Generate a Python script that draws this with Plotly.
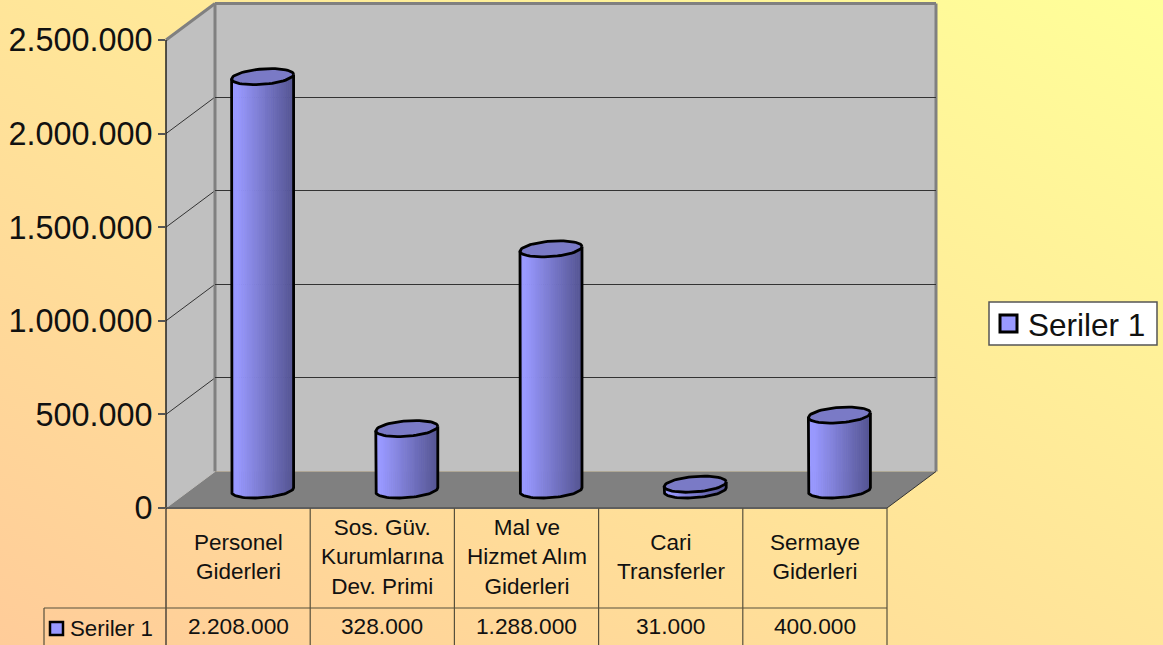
import math
from urllib.parse import quote
import plotly.graph_objects as go

# ---- data ----
categories = ["Personel<br>Giderleri", "Sos. Güv.<br>Kurumlarına<br>Dev. Primi",
              "Mal ve<br>Hizmet Alım<br>Giderleri", "Cari<br>Transferler", "Sermaye<br>Giderleri"]
values = [2208000, 328000, 1288000, 31000, 400000]
value_labels = ["2.208.000", "328.000", "1.288.000", "31.000", "400.000"]
y_ticks = [0, 500000, 1000000, 1500000, 2000000, 2500000]
y_tick_labels = ["0", "500.000", "1.000.000", "1.500.000", "2.000.000", "2.500.000"]
series_name = "Seriler 1"

# ---- layout geometry (pixels) ----
W, H = 1163, 645
FL, FR, FT, FB = 166, 887, 40, 508      # front plane of the 3-D box
DX, DY = 49, 36.5                       # depth offset to back wall
BX, BY = 24.5, 18                       # bar plane offset
ROW_TOP, LEFT_COL = 608, 44
FONT = "Liberation Sans"
TXT = "#111111"
GRID = "#333333"
EDGE = "#808080"
LINE = "#57503c"

def fx(p): return p / W
def fy(p): return 1 - p / H

VMAX = y_ticks[-1]
PX_PER_V = (FB - FT) / VMAX
PX_PER_CAT = (FR - FL) / len(values)
xr = [0.5, len(values) + 0.5]
n = len(values)
cat_x = list(range(1, n + 1))
tick_py = [FB - v * PX_PER_V for v in y_ticks]
col_px = [FL + i * PX_PER_CAT for i in range(n + 1)]

# background gradient
svg = ("<svg xmlns='http://www.w3.org/2000/svg' width='1163' height='645' preserveAspectRatio='none'>"
       "<defs><linearGradient id='g' x1='0' y1='1' x2='1' y2='0'>"
       "<stop offset='0' stop-color='#FFCC99'/><stop offset='1' stop-color='#FFFF99'/>"
       "</linearGradient></defs><rect width='1163' height='645' fill='url(#g)'/></svg>")
bg = "data:image/svg+xml," + quote(svg)

shapes = []
def poly(pts, fill, line=None, lw=0):
    d = "M" + " L".join(f"{fx(x):.5f},{fy(y):.5f}" for x, y in pts) + " Z"
    shapes.append(dict(type="path", path=d, xref="paper", yref="paper", fillcolor=fill, layer="below",
                       line=dict(color=line or fill, width=lw)))
def seg(x0, y0, x1, y1, color, lw):
    shapes.append(dict(type="line", xref="paper", yref="paper", layer="below",
                       x0=fx(x0), y0=fy(y0), x1=fx(x1), y1=fy(y1), line=dict(color=color, width=lw)))

# box walls and floor
poly([(FL + DX, FT - DY), (FR + DX, FT - DY), (FR + DX, FB - DY), (FL + DX, FB - DY)], "#C0C0C0")
poly([(FL, FT), (FL + DX, FT - DY), (FL + DX, FB - DY), (FL, FB)], "#C0C0C0")
poly([(FL, FB), (FL + DX, FB - DY), (FR + DX, FB - DY), (FR, FB)], "#808080")
# side wall gridlines
for p in tick_py[1:-1]:
    seg(FL, p, FL + DX, p - DY, GRID, 1)
# box edges
seg(FL, FT, FL + DX, FT - DY, EDGE, 3)
seg(FL + DX, FT - DY, FR + DX, FT - DY, EDGE, 3)
seg(FL + DX, FT - DY, FL + DX, FB - DY, EDGE, 3)
seg(FR + DX, FT - DY, FR + DX, FB - DY, EDGE, 3)
seg(FL, FB, FL + DX, FB - DY, "#C0C0C0", 1)
seg(FR, FB, FR + DX, FB - DY, "#333333", 1)
seg(FL, FT, FL, FB, "#222222", 1.5)
seg(FL, FB, FR, FB, "#5e5e5e", 2)
# data table rules
seg(FL, FB, FL, H, "#222222", 1.2)
for c in col_px[1:]:
    seg(c, FB, c, H, LINE, 1.2)
seg(LEFT_COL, ROW_TOP, FR, ROW_TOP, LINE, 1.2)
seg(LEFT_COL, ROW_TOP, LEFT_COL, H, LINE, 1.2)
# table key
poly([(50, 622), (63, 622), (63, 635), (50, 635)], "#9999FF", "#000000", 2.5)
# legend box and key
poly([(989, 302), (1157, 302), (1157, 345), (989, 345)], "#FFFFFF", "#555555", 1.5)
poly([(1000, 315), (1017, 315), (1017, 332), (1000, 332)], "#9999FF", "#000000", 3)

# ---- cylinders, on their own axes ----
A = 31 / PX_PER_CAT              # half width in category units
B = 7.7 / PX_PER_V               # ellipse half height in value units
T = 2.3 / PX_PER_V               # ellipse tilt in value units
def arc(cx, v, t0, t1, steps):
    xs, ys = [], []
    for i in range(steps + 1):
        t = t0 + (t1 - t0) * i / steps
        xs.append(cx + A * math.cos(t))
        ys.append(v + T * math.cos(t) + B * math.sin(t))
    return xs, ys

def body_colour(f):
    light, dark = (153, 153, 255), (84, 84, 146)
    k = 0 if f < 0.1 else (f - 0.1) / 0.9
    return "rgb(%d,%d,%d)" % tuple(round(a + (b - a) * k) for a, b in zip(light, dark))

# empty trace so that the back-wall subplot (and its gridlines) is drawn
traces = [go.Scatter(x=[None], y=[None], mode="lines", hoverinfo="skip", showlegend=False,
                     xaxis="x", yaxis="y")]
STRIPS = 32
for s in range(STRIPS):
    f0, f1 = s / STRIPS, (s + 1) / STRIPS
    xs, ys = [], []
    for cx, v in zip(cat_x, values):
        for f, rev in ((f0, False), (f1, True)):
            u = 2 * f - 1
            x = cx + A * u
            off = T * u
            low = -B * math.sqrt(max(0, 1 - u * u)) + off
            high = v + off
            seq = [(x, low), (x, high)] if not rev else [(x, high), (x, low)]
            for px_, py_ in seq:
                xs.append(px_); ys.append(py_)
        xs.append(None); ys.append(None)
    col = body_colour((f0 + f1) / 2)
    traces.append(go.Scatter(x=xs, y=ys, mode="lines", fill="toself", fillcolor=col,
                             line=dict(color=col, width=0.8), hoverinfo="skip",
                             showlegend=False, xaxis="x3", yaxis="y3"))

ox, oy, tx, ty = [], [], [], []
for cx, v in zip(cat_x, values):
    ax, ay = arc(cx, 0, math.pi, 2 * math.pi, 40)
    ox += [cx - A] + ax + [cx + A, None]
    oy += [v - T] + ay + [v + T, None]
    ex, ey = arc(cx, v, 0, 2 * math.pi, 60)
    tx += ex + [None]
    ty += ey + [None]
traces.append(go.Scatter(x=tx, y=ty, mode="lines", fill="toself", fillcolor="#7A7AC6",
                         line=dict(color="#000000", width=2.8), hoverinfo="skip",
                         showlegend=False, xaxis="x3", yaxis="y3"))
traces.append(go.Scatter(x=ox, y=oy, mode="lines", line=dict(color="#000000", width=2.8),
                         hoverinfo="skip", showlegend=False, xaxis="x3", yaxis="y3"))

# ---- text in the table and legend ----
annotations = []
for cx, cat, lab in zip(cat_x, categories, value_labels):
    annotations.append(dict(x=cx, y=fy(557), xref="x2", yref="paper", text=cat, showarrow=False,
                            xanchor="center", yanchor="middle", align="center",
                            font=dict(family=FONT, size=22.5, color=TXT)))
    annotations.append(dict(x=cx, y=fy(625.5), xref="x2", yref="paper", text=lab, showarrow=False,
                            xanchor="center", yanchor="middle",
                            font=dict(family=FONT, size=22.7, color=TXT)))
annotations.append(dict(x=fx(68), y=fy(628), xref="paper", yref="paper", text=series_name, showarrow=False,
                        xanchor="left", yanchor="middle", font=dict(family=FONT, size=22.3, color=TXT)))
annotations.append(dict(x=fx(1026), y=fy(325), xref="paper", yref="paper", text=series_name, showarrow=False,
                        xanchor="left", yanchor="middle", font=dict(family=FONT, size=31.5, color=TXT)))

hidden = dict(visible=False, fixedrange=True)
fig = go.Figure(traces)
fig.update_layout(
    width=W, height=H, margin=dict(l=0, r=0, t=0, b=0, pad=0, autoexpand=False),
    paper_bgcolor="rgba(0,0,0,0)", plot_bgcolor="rgba(0,0,0,0)",
    font=dict(family=FONT, color=TXT),
    images=[dict(source=bg, xref="paper", yref="paper", x=0, y=1, sizex=1, sizey=1,
                 sizing="stretch", xanchor="left", yanchor="top", layer="below")],
    shapes=shapes, annotations=annotations,
    # back wall gridlines
    xaxis=dict(domain=[fx(FL + DX), fx(FR + DX)], range=xr, anchor="y", **hidden),
    yaxis=dict(domain=[fy(FB - DY), fy(FT - DY)], range=[0, VMAX], anchor="x", showgrid=True, gridcolor=GRID,
               gridwidth=1, zeroline=False, showline=False, showticklabels=False, ticks="",
               tickmode="array", tickvals=y_ticks[1:-1], fixedrange=True),
    # front plane with the value axis
    xaxis2=dict(domain=[fx(FL), fx(FR)], range=xr, anchor="y2", **hidden),
    yaxis2=dict(domain=[fy(FB), fy(FT)], range=[0, VMAX], anchor="x2", side="left",
                showgrid=False, zeroline=False, showline=False, ticks="outside", ticklen=7, tickwidth=1.5,
                tickcolor="#555555", tickmode="array", tickvals=y_ticks, ticktext=y_tick_labels,
                ticklabelstandoff=-1, tickfont=dict(family=FONT, size=32.4, color=TXT), fixedrange=True),
    # bar plane
    xaxis3=dict(domain=[fx(FL + BX), fx(FR + BX)], range=xr, anchor="y3", **hidden),
    yaxis3=dict(domain=[fy(FB), fy(FT - BY)], range=[-BY / PX_PER_V, VMAX], anchor="x3", **hidden),
    showlegend=False,
    hovermode=False,
)
fig.write_html("out.html", post_script="document.body.style.margin='0';document.body.style.overflow='hidden';",
               config=dict(displayModeBar=False))
